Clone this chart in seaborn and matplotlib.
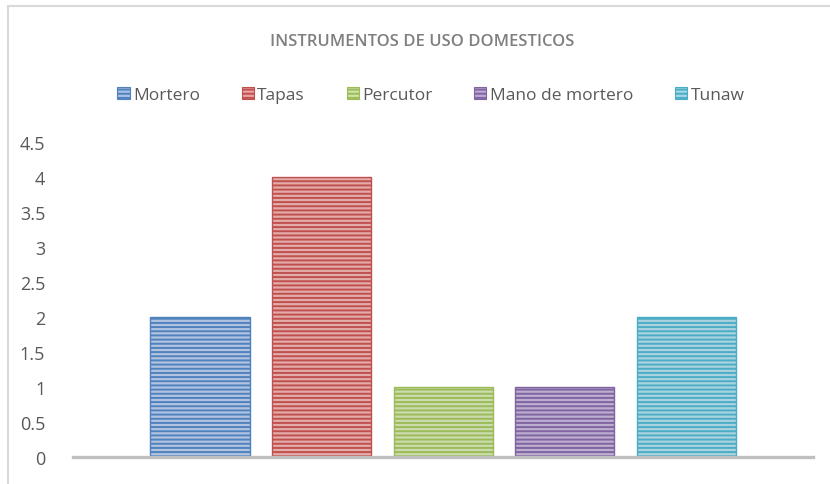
import pandas as pd
import matplotlib
matplotlib.use('Agg')
from matplotlib import pyplot as plt
from matplotlib.patches import Rectangle, Patch
from matplotlib.ticker import FormatStrFormatter
import seaborn as sns

instrumentos = ['Mortero', 'Tapas', 'Percutor', 'Mano de mortero', 'Tunaw']
cantidad = [2, 4, 1, 1, 2]
relleno = ['#a9c1e8', '#eba3a1', '#cfe2a6', '#bba9d3', '#a2d8e8']
rayas = ['#4f81bd', '#c0504d', '#9bbb59', '#8064a2', '#4bacc6']
titulo = 'INSTRUMENTOS DE USO DOMESTICOS'

sns.set_style('white')
plt.rcParams['font.family'] = ['Open Sans', 'DejaVu Sans']
plt.rcParams['hatch.linewidth'] = 1.4

df = pd.DataFrame({'instrumento': instrumentos, 'cantidad': cantidad})

fig = plt.figure(figsize=(8.3, 4.85), dpi=100)
# axes: x 73..813 px, y 143 (4.5) .. 458 (0) px
ax = fig.add_axes([73 / 830, 1 - 458 / 485, 740 / 830, 315 / 485])

sns.barplot(data=df, x='instrumento', y='cantidad', hue='instrumento',
            palette=relleno, width=0.815, legend=False, ax=ax)

for bar, c in zip(ax.patches, rayas):
    bar.set_hatch('----')
    bar.set_edgecolor(c)
    bar.set_linewidth(1.0)

ax.set_xlim(-1.044, 5.04)
ax.set_ylim(0, 4.5)
ax.set_yticks([i * 0.5 for i in range(10)])
ax.yaxis.set_major_formatter(FormatStrFormatter('%g'))
ax.tick_params(axis='y', length=0, pad=20, labelsize=13, labelcolor='#595959')
ax.set_xticks([])
ax.set_xlabel('')
ax.set_ylabel('')
for s in ['top', 'right', 'left']:
    ax.spines[s].set_visible(False)
ax.spines['bottom'].set_color('#bfbfbf')
ax.spines['bottom'].set_linewidth(2.4)

handles = [Patch(facecolor=f, edgecolor=e, hatch='----', linewidth=0.8)
           for f, e in zip(relleno, rayas)]
fig.legend(handles, instrumentos, loc='center', bbox_to_anchor=(431 / 830, 1 - 96 / 485),
           ncol=5, frameon=False, fontsize=12.5, labelcolor='#595959',
           handlelength=0.7, handleheight=0.7, handletextpad=0.2, columnspacing=2.4)

fig.text(422 / 830, 1 - 42 / 485, titulo, ha='center', va='center',
         fontsize=12, color='#7f7f7f', fontweight='semibold')

fig.patches.append(Rectangle((8 / 830, -0.1), 1.2, 1 - 7 / 485 + 0.1,
                             transform=fig.transFigure, fill=False,
                             edgecolor='#d9d9d9', linewidth=1.5))

fig.savefig('out.png', dpi=100)
